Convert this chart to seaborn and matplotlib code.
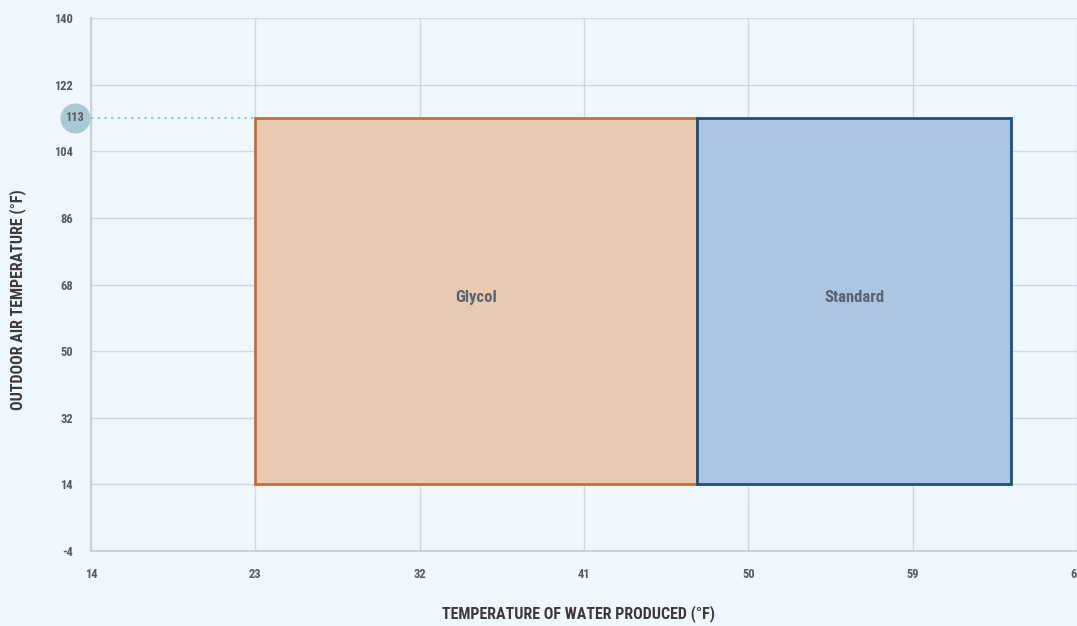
import matplotlib
matplotlib.use("Agg")
import matplotlib.pyplot as plt
import matplotlib.transforms as mtransforms
from matplotlib import font_manager
import seaborn as sns
import pandas as pd

# ---- data ----
modes = ["Glycol", "Standard"]
water_min = [23.0, 47.2]
water_max = [47.2, 64.4]
air_min = [14.0, 14.0]
air_max = [113.0, 113.0]
fill_colors = ["#EAC9B3", "#AAC4E2"]
edge_colors = ["#C0703F", "#1F4E79"]
x_ticks = [14, 23, 32, 41, 50, 59, 68]
y_ticks = [-4, 14, 32, 50, 68, 86, 104, 122, 140]
max_air = 113
x_label = "TEMPERATURE OF WATER PRODUCED (°F)"
y_label = "OUTDOOR AIR TEMPERATURE (°F)"

df = pd.DataFrame({"mode": modes, "xmin": water_min, "xmax": water_max,
                   "ymin": air_min, "ymax": air_max})

sns.set_theme(style="whitegrid")
available = {f.name for f in font_manager.fontManager.ttflist}
prefs = ["Roboto Condensed", "DejaVu Sans Condensed", "Liberation Sans Narrow",
         "Open Sans Condensed", "Roboto", "Liberation Sans", "DejaVu Sans"]
FONT = [f for f in prefs if f in available] + ["DejaVu Sans"]
plt.rcParams["font.family"] = FONT
plt.rcParams["font.weight"] = "bold"
plt.rcParams["axes.unicode_minus"] = False

BG = "#F0F8FF"
GRID = "#C3CCD5"
TICK_C = "#525A62"
LABEL_C = "#3A3A3A"

fig = plt.figure(figsize=(10.77, 6.26), dpi=100, facecolor=BG)
ax = fig.add_axes([91 / 1077, 1 - 551 / 626, 986 / 1077, 533 / 626])
ax.set_facecolor(BG)

for _, r in df.iterrows():
    i = modes.index(r["mode"])
    ax.bar(r["xmin"], r["ymax"] - r["ymin"], width=r["xmax"] - r["xmin"],
           bottom=r["ymin"], align="edge", color=fill_colors[i],
           edgecolor=edge_colors[i], linewidth=2, zorder=2, alpha=1)
    ax.text((r["xmin"] + r["xmax"]) / 2, (r["ymin"] + r["ymax"]) / 2 + 1,
            r["mode"], ha="center", va="center", fontsize=12,
            fontweight="bold", color="#5A6470", zorder=4, family=FONT)

ax.set_xlim(x_ticks[0], x_ticks[-1])
ax.set_ylim(y_ticks[0], y_ticks[-1])
ax.set_xticks(x_ticks)
ax.set_yticks(y_ticks)
ax.tick_params(axis="both", length=0, labelsize=9, labelcolor=TICK_C)
ax.tick_params(axis="x", pad=12)
ax.tick_params(axis="y", pad=13)
for lab in ax.get_xticklabels() + ax.get_yticklabels():
    lab.set_fontweight("bold")
    lab.set_clip_on(False)

ax.grid(True, color=GRID, linewidth=1, zorder=0)
for g in ax.get_xgridlines() + ax.get_ygridlines():
    g.set_zorder(2.5)
    g.set_alpha(0.7)
for s in ["top", "right"]:
    ax.spines[s].set_visible(False)
for s in ["left", "bottom"]:
    ax.spines[s].set_color(GRID)
    ax.spines[s].set_linewidth(1.2)

# max air temp marker
ax.plot([x_ticks[0], water_min[0]], [max_air, max_air], ls=(0, (1.5, 2.5)),
        color="#8FBCC4", lw=1.2, zorder=3)
trans = mtransforms.blended_transform_factory(ax.transAxes, ax.transData)
ax.scatter([-16 / 986], [max_air], s=470, color="#A9CAD3", transform=trans,
           clip_on=False, zorder=5, linewidths=0)
ax.text(-16 / 986, max_air, str(max_air), transform=trans, ha="center",
        va="center", fontsize=9, fontweight="bold", color=TICK_C,
        zorder=6, family=FONT)

fig.text(578 / 1077, 1 - 614 / 626, x_label, ha="center", va="center",
         fontsize=11.5, fontweight="bold", color=LABEL_C, family=FONT)
fig.text(18 / 1077, 1 - 300 / 626, y_label, ha="center", va="center",
         rotation=90, fontsize=11.5, fontweight="bold", color=LABEL_C, family=FONT)

fig.savefig("out.png", dpi=100, facecolor=BG)
